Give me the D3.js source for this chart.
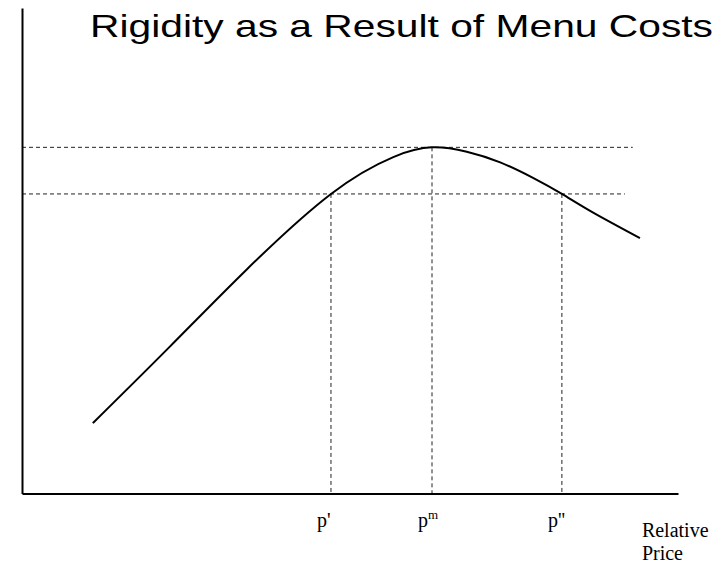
<!DOCTYPE html>
<html>
<head>
<meta charset="utf-8">
<script src="https://cdn.jsdelivr.net/npm/d3@7"></script>
<style>
  body { margin: 0; background: #fff; }
  svg { display: block; }
</style>
</head>
<body>
<div id="chart"></div>
<script>
// profit curve (relative price -> profit)
const priceX = [1.08, 2.25, 3.43, 4.71, 5.66, 6.25, 6.78, 7.29, 7.79, 8.23, 8.7, 9.42];
const profitY = [1.45, 3.02, 4.62, 6.17, 6.93, 7.13, 7.04, 6.82, 6.5, 6.17, 5.79, 5.26];

// marked prices under the axis
const tickLabels = ["p'", "pm", "p''"];
const tickPrices = [4.71, 6.25, 8.23];
const tickTops = [6.17, 7.13, 6.17];

// dashed profit levels and where they stop
const levelValues = [7.13, 6.17];
const levelEnds = [9.31, 9.19];

const axisLabel = ["Relative", "Price"];
const title = "Rigidity as a Result of Menu Costs";

const width = 727;
const height = 563;

const x = d3.scaleLinear().domain([0, 10]).range([22, 678]);
const y = d3.scaleLinear().domain([0, 10]).range([493.5, 8]);

const svg = d3
  .select("#chart")
  .append("svg")
  .attr("width", width)
  .attr("height", height);

// title is drawn wider than normal Arial in the original
svg
  .append("text")
  .attr("x", 90)
  .attr("y", 37)
  .attr("font-family", "Liberation Sans, Arial, sans-serif")
  .attr("font-size", 32)
  .attr("textLength", 623)
  .attr("lengthAdjust", "spacingAndGlyphs")
  .text(title);

// dashed guides
svg
  .selectAll(".level")
  .data(levelValues)
  .enter()
  .append("line")
  .attr("class", "level")
  .attr("x1", x(0))
  .attr("x2", (d, i) => x(levelEnds[i]))
  .attr("y1", (d) => y(d))
  .attr("y2", (d) => y(d))
  .attr("stroke", "#222")
  .attr("stroke-width", 1)
  .attr("stroke-dasharray", "4,3");

svg
  .selectAll(".drop")
  .data(tickPrices)
  .enter()
  .append("line")
  .attr("class", "drop")
  .attr("x1", (d) => x(d))
  .attr("x2", (d) => x(d))
  .attr("y1", (d, i) => y(tickTops[i]))
  .attr("y2", y(0))
  .attr("stroke", "#222")
  .attr("stroke-width", 1)
  .attr("stroke-dasharray", "4,3");

// axes, no ticks
svg
  .append("g")
  .attr("transform", `translate(${x(0)},0)`)
  .call(d3.axisLeft(y).ticks(0).tickSize(0).tickSizeOuter(0));

svg
  .append("g")
  .attr("transform", `translate(0,${y(0)})`)
  .call(d3.axisBottom(x).ticks(0).tickSize(0).tickSizeOuter(0));

svg.selectAll(".domain").attr("stroke", "#000").attr("stroke-width", 2);

// curve
const points = priceX.map((p, i) => [p, profitY[i]]);
svg
  .append("path")
  .datum(points)
  .attr("fill", "none")
  .attr("stroke", "#000")
  .attr("stroke-width", 2)
  .attr(
    "d",
    d3
      .line()
      .x((d) => x(d[0]))
      .y((d) => y(d[1]))
      .curve(d3.curveNatural)
  );

// price labels
const labels = svg
  .selectAll(".plabel")
  .data(tickLabels)
  .enter()
  .append("text")
  .attr("class", "plabel")
  .attr("x", (d, i) => x(tickPrices[i]) - 14)
  .attr("y", 527)
  .attr("font-family", "Liberation Serif, Times New Roman, serif")
  .attr("font-size", 20);

labels.each(function (d) {
  const t = d3.select(this);
  if (d === "pm") {
    t.append("tspan").text("p");
    t.append("tspan").attr("font-size", 13).attr("dy", -8).text("m");
  } else {
    t.text(d);
  }
});

svg
  .append("text")
  .attr("font-family", "Liberation Serif, Times New Roman, serif")
  .attr("font-size", 20)
  .selectAll("tspan")
  .data(axisLabel)
  .enter()
  .append("tspan")
  .attr("x", x(9.45))
  .attr("y", (d, i) => 537 + i * 23)
  .text((d) => d);
</script>
</body>
</html>
